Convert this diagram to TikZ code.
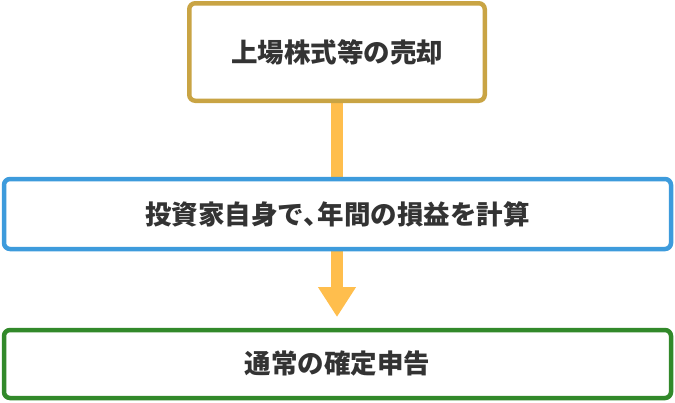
\documentclass[tikz,border=0pt]{standalone}
\usepackage{fontspec}
\newfontfamily\cjk{Noto Sans CJK JP}
\usetikzlibrary{arrows.meta}
\pgfdeclarelayer{background}
\pgfsetlayers{background,main}
\definecolor{goldc}{HTML}{C9A444}
\definecolor{bluec}{HTML}{3D9BDC}
\definecolor{greenc}{HTML}{32892A}
\definecolor{arrowc}{HTML}{FFBE4D}
\definecolor{txtc}{HTML}{333333}
\tikzset{
  box/.style={draw, fill=white, line width=4.5pt, rounded corners=6pt, outer sep=0pt, inner sep=0pt,
    text=txtc, font=\cjk\bfseries\fontsize{26.5pt}{30pt}\selectfont},
  flow/.style={arrowc, line width=12pt, -{Triangle[width=36pt,length=30pt]}}
}
\begin{document}
\begin{tikzpicture}[x=1pt,y=-1pt]
\useasboundingbox (0,0) rectangle (675,402);
\node[box, draw=goldc, minimum width=295.5pt, minimum height=97.5pt] (top) at (337,52) {上場株式等の売却};
\node[box, draw=bluec, minimum width=667pt, minimum height=70pt] (mid) at (337.5,214) {投資家自身で、\kern-0.45em年間の損益を計算};
\node[box, draw=greenc, minimum width=667pt, minimum height=68pt] (bot) at (337.5,364) {通常の確定申告};
\begin{pgfonlayer}{background}
\draw[flow, shorten >=13pt] (top.south) -- (top.south |- bot.north);
\end{pgfonlayer}
\end{tikzpicture}
\end{document}
